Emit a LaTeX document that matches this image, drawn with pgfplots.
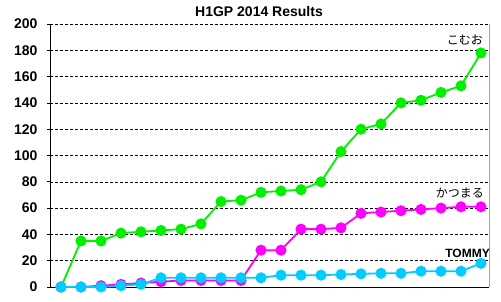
\documentclass[border=0pt]{standalone}
\usepackage{pgfplots}
\pgfplotsset{compat=1.18}
\usepackage{fontspec}
\setmainfont{Liberation Sans}
\newfontfamily\jp{Noto Sans CJK JP}
\definecolor{cgreen}{RGB}{0,240,0}
\definecolor{cmag}{RGB}{255,0,255}
\definecolor{ccyan}{RGB}{0,204,255}
\begin{document}
\begin{tikzpicture}
\path[use as bounding box] (0,0) rectangle (501pt,302pt);
\node[font=\bfseries\fontsize{14}{14}\selectfont] at (259pt,290pt) {H1GP 2014 Results};
\begin{axis}[
  at={(50pt,15pt)}, anchor=south west,
  width=439pt, height=263pt, scale only axis=true,
  xmin=-0.55, xmax=21.4, ymin=0, ymax=200,
  axis lines*=left,
  axis line style={black, line width=0.8pt},
  xtick=\empty,
  ytick={0,20,...,200},
  ymajorgrids=true,
  grid style={black, dash pattern=on 3pt off 2pt, line width=0.5pt},
  tick align=outside, major tick length=3pt,
  ytick style={black, line width=0.6pt},
  /pgf/number format/assume math mode=true,
  yticklabel style={font=\bfseries\fontsize{14}{14}\selectfont, xshift=-6pt},
  clip=false,
]
\addplot[cgreen, line width=1.8pt, mark=*, mark size=4.6pt, mark options={solid, fill=cgreen, draw=cgreen}] coordinates {
(0,0) (1,35) (2,35) (3,41) (4,42) (5,43) (6,44) (7,48) (8,65) (9,66) (10,72)
(11,73) (12,74) (13,80) (14,103) (15,120) (16,124) (17,140) (18,142) (19,148) (20,153) (21,178)};
\addplot[cmag, line width=1.8pt, mark=*, mark size=4.6pt, mark options={solid, fill=cmag, draw=cmag}] coordinates {
(0,0) (1,0) (2,1) (3,2) (4,3) (5,4) (6,5) (7,5) (8,5) (9,5) (10,28)
(11,28) (12,44) (13,44) (14,45) (15,56) (16,57) (17,58) (18,59) (19,60) (20,61) (21,61)};
\addplot[ccyan, line width=1.8pt, mark=*, mark size=4.6pt, mark options={solid, fill=ccyan, draw=ccyan}] coordinates {
(0,0) (1,0) (2,0) (3,1) (4,2) (5,7) (6,7) (7,7) (8,7) (9,7) (10,7)
(11,9) (12,9) (13,9) (14,9.5) (15,10) (16,10.4) (17,10.4) (18,12) (19,12) (20,12) (21,18)};
\draw[gray!70, line width=0.8pt] (rel axis cs:1,0) -- (rel axis cs:1,1);
\node[anchor=east, font=\jp\fontsize{12}{12}\selectfont, inner sep=0pt] at (axis cs:21.1,187.6) {こむお};
\node[anchor=east, font=\jp\fontsize{12}{12}\selectfont, inner sep=0pt] at (axis cs:21.15,71.3) {かつまる};
\node[anchor=east, font=\bfseries\fontsize{12}{12}\selectfont, inner sep=0pt] at (axis cs:21.45,25.6) {TOMMY};
\end{axis}
\end{tikzpicture}
\end{document}
